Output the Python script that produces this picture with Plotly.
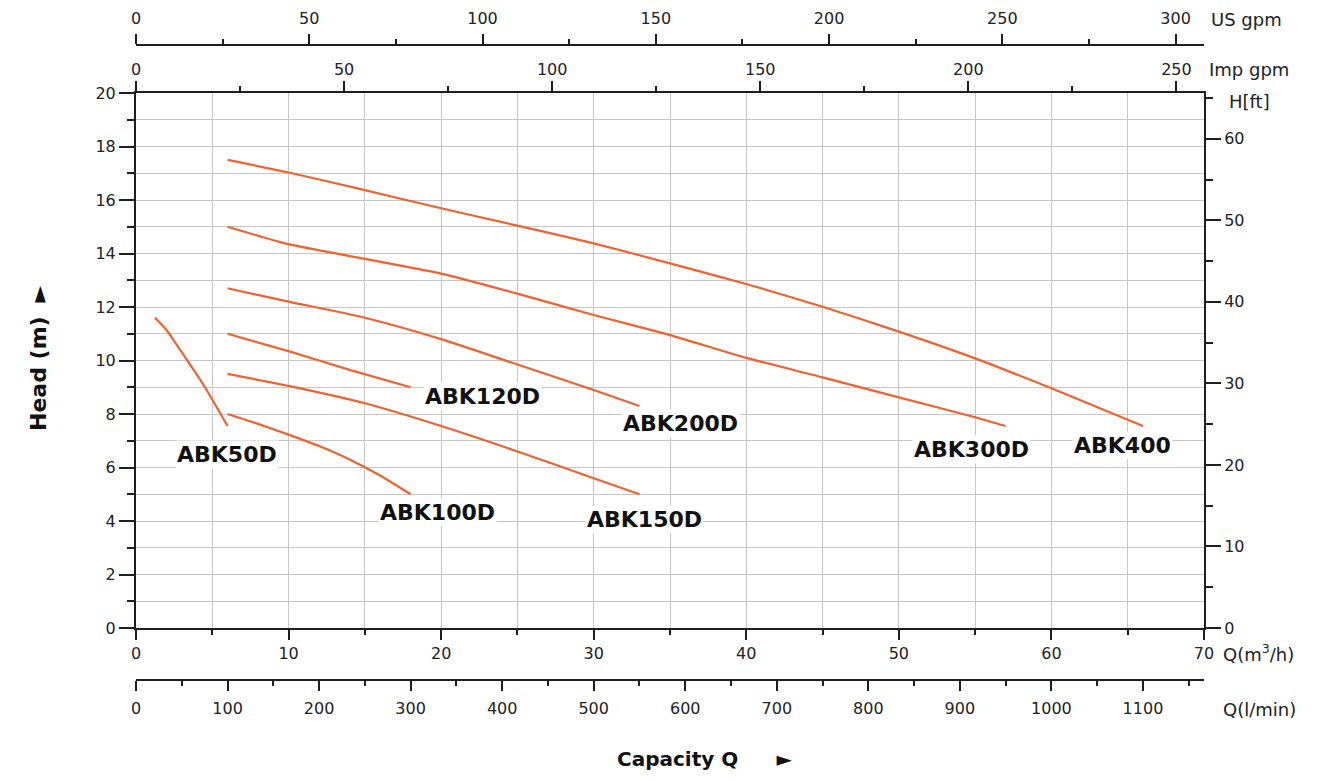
import plotly.graph_objects as go

# ---------------- data ----------------
q_abk50 = [1.25, 2.0, 2.9, 4.5, 6.0]
h_abk50 = [11.6, 11.14, 10.39, 9.02, 7.55]

q_abk100 = [6, 8, 10, 12, 14, 16, 18]
h_abk100 = [8.0, 7.63, 7.23, 6.8, 6.3, 5.7, 5.0]

q_abk120 = [6, 10, 14, 18]
h_abk120 = [11.0, 10.35, 9.65, 9.0]

q_abk150 = [6, 10, 15, 20, 25, 30, 33]
h_abk150 = [9.5, 9.05, 8.4, 7.55, 6.6, 5.6, 5.0]

q_abk200 = [6, 10, 15, 20, 25, 30, 33]
h_abk200 = [12.7, 12.2, 11.6, 10.8, 9.85, 8.9, 8.3]

q_abk300 = [6, 10, 15, 20, 25, 30, 35, 40, 45, 50, 55, 57]
h_abk300 = [15.0, 14.35, 13.8, 13.25, 12.5, 11.7, 10.95, 10.1, 9.37, 8.62, 7.88, 7.55]

q_abk400 = [6, 10, 15, 20, 25, 30, 35, 40, 45, 50, 55, 60, 66]
h_abk400 = [17.5, 17.03, 16.37, 15.69, 15.04, 14.38, 13.63, 12.86, 12.01, 11.08, 10.08, 8.96, 7.55]

model_names = ["ABK50D", "ABK100D", "ABK120D", "ABK150D", "ABK200D", "ABK300D", "ABK400"]
model_q = [q_abk50, q_abk100, q_abk120, q_abk150, q_abk200, q_abk300, q_abk400]
model_h = [h_abk50, h_abk100, h_abk120, h_abk150, h_abk200, h_abk300, h_abk400]

# label anchor points (Q, H) for each model name
label_q = [5.97, 19.73, 22.68, 33.36, 35.66, 54.73, 64.69]
label_h = [6.47, 4.30, 8.67, 4.07, 7.63, 6.69, 6.84]

Q_MAX = 70      # m3/h
H_MAX = 20      # m

# unit conversions
LMIN_PER_M3H = 1000.0 / 60.0
IMP_PER_M3H = LMIN_PER_M3H / 4.54609
US_PER_M3H = LMIN_PER_M3H / 3.785411784
FT_PER_M = 3.28084

# ---------------- layout geometry (page px) ----------------
W, HGT = 1335, 781
OFF = 8                      # browser body margin
FW, FH = W - 2 * OFF, HGT - 2 * OFF
PL, PR = 136, 1204
Y_US, Y_TOP, Y_BOT, Y_LMIN = 45, 93, 628, 680

def px_x(p):
    return (p - PL) / (PR - PL)

def px_y(p):
    return (Y_LMIN - p) / (Y_LMIN - Y_US)

ORANGE = "#f0622c"
GRID = "#c6c6c6"
AXC = "#1e1e1e"
FONT = "DejaVu Sans"
tickfont = dict(family=FONT, size=16, color="#222")

fig = go.Figure()
for name, qs, hs in zip(model_names, model_q, model_h):
    fig.add_trace(go.Scatter(
        x=qs, y=hs, mode="lines", name=name,
        line=dict(color=ORANGE, width=2.2, shape="spline", smoothing=0.6),
        hoverinfo="skip", showlegend=False,
    ))

for name, lq, lh in zip(model_names, label_q, label_h):
    fig.add_annotation(
        x=lq, y=lh, xref="x", yref="y", text="<b>%s</b>" % name,
        showarrow=False, bgcolor="white", borderpad=1,
        font=dict(family=FONT, size=22, color="#111"),
    )

common = dict(showline=True, linecolor=AXC, linewidth=2, zeroline=False,
              automargin=False,
              ticks="outside", tickcolor=AXC, tickwidth=1.5, tickfont=tickfont)

fig.update_layout(
    width=FW, height=FH,
    margin=dict(l=PL - OFF, r=FW - (PR - OFF), t=Y_US - OFF, b=FH - (Y_LMIN - OFF),
                autoexpand=False),
    paper_bgcolor="white", plot_bgcolor="white",
    showlegend=False,
    xaxis=dict(
        domain=[0, 1], range=[0, Q_MAX], anchor="y", dtick=10, ticklen=10,
        showgrid=True, gridcolor=GRID, gridwidth=1.2,
        minor=dict(dtick=5, ticks="outside", ticklen=5, tickcolor=AXC,
                   tickwidth=1.5, showgrid=True, gridcolor=GRID, gridwidth=1.2),
        **common,
    ),
    yaxis=dict(
        domain=[px_y(Y_BOT), px_y(Y_TOP)], range=[0, H_MAX], anchor="x",
        dtick=2, ticklen=15,
        showgrid=True, gridcolor=GRID, gridwidth=1.2,
        minor=dict(dtick=1, ticks="outside", ticklen=7, tickcolor=AXC,
                   tickwidth=1.5, showgrid=True, gridcolor=GRID, gridwidth=1.2),
        **common,
    ),
    yaxis2=dict(
        overlaying="y", side="right", anchor="x",
        range=[0, H_MAX * FT_PER_M], dtick=10, ticklen=15, showgrid=False,
        minor=dict(dtick=5, ticks="outside", ticklen=7, tickcolor=AXC, tickwidth=1.5),
        **common,
    ),
    xaxis2=dict(
        overlaying="x", anchor="free", position=0, side="bottom",
        range=[0, Q_MAX * LMIN_PER_M3H], dtick=100, ticklen=10, showgrid=False,
        ticklabelstandoff=4,
        minor=dict(dtick=50, ticks="outside", ticklen=5, tickcolor=AXC, tickwidth=1.5),
        **common,
    ),
    xaxis3=dict(
        overlaying="x", anchor="y", side="top",
        range=[0, Q_MAX * IMP_PER_M3H], dtick=50, ticklen=10, showgrid=False,
        minor=dict(dtick=25, ticks="outside", ticklen=5, tickcolor=AXC, tickwidth=1.5),
        **common,
    ),
    xaxis4=dict(
        overlaying="x", anchor="free", position=1, side="top",
        range=[0, Q_MAX * US_PER_M3H], dtick=50, ticklen=10, showgrid=False,
        ticklabelstandoff=4,
        minor=dict(dtick=25, ticks="outside", ticklen=5, tickcolor=AXC, tickwidth=1.5),
        **common,
    ),
)

# helper traces so every extra axis is drawn
fig.add_trace(go.Scatter(x=[None], y=[None], xaxis="x2", yaxis="y", showlegend=False, hoverinfo="skip"))
fig.add_trace(go.Scatter(x=[None], y=[None], xaxis="x3", yaxis="y", showlegend=False, hoverinfo="skip"))
fig.add_trace(go.Scatter(x=[None], y=[None], xaxis="x4", yaxis="y", showlegend=False, hoverinfo="skip"))
fig.add_trace(go.Scatter(x=[None], y=[None], xaxis="x", yaxis="y2", showlegend=False, hoverinfo="skip"))

unit_font = dict(family=FONT, size=18, color="#222")
units = [
    ("US gpm", 1209, 19),
    ("Imp gpm", 1207, 69),
    ("H[ft]", 1227, 101),
    ("Q(m<sup>3</sup>/h)", 1221, 653),
    ("Q(l/min)", 1221, 709),
]
for txt, xp, yp in units:
    fig.add_annotation(x=px_x(xp), y=px_y(yp), xref="paper", yref="paper",
                       text=txt, showarrow=False, xanchor="left", yanchor="middle",
                       font=unit_font)

fig.add_annotation(x=px_x(704), y=px_y(HGT - OFF), xref="paper", yref="paper",
                   text="<b>Capacity Q</b>      \u25BA", showarrow=False,
                   xanchor="center", yanchor="bottom",
                   font=dict(family=FONT, size=20, color="#111"))
fig.add_annotation(x=px_x(38), y=px_y(358), xref="paper", yref="paper",
                   text="<b>Head (m)</b>  \u25BA", showarrow=False, textangle=-90,
                   xanchor="center", yanchor="middle",
                   font=dict(family=FONT, size=22, color="#111"))

fig.write_html("out.html")
